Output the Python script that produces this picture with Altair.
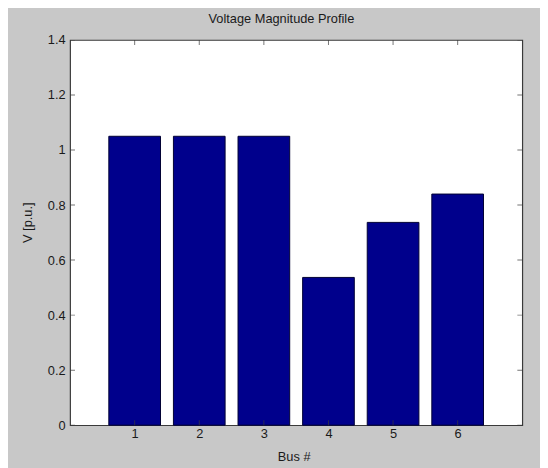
import altair as alt
import pandas as pd

buses = [1, 2, 3, 4, 5, 6]
voltages = [1.05, 1.05, 1.05, 0.537, 0.737, 0.840]
x_ticks = [1, 2, 3, 4, 5, 6]
y_ticks = [0, 0.2, 0.4, 0.6, 0.8, 1.0, 1.2, 1.4]

FONT = "Liberation Sans"
TXT = "#1a1a1a"
FRAME = "#3a3a3a"
FS = 13

bars_df = pd.DataFrame({"bus": buses, "v": voltages})
xt_df = pd.DataFrame({"t": x_ticks})
yt_df = pd.DataFrame({"t": y_ticks})

xscale = alt.Scale(domain=[0, 7], nice=False, zero=False)
yscale = alt.Scale(domain=[0, 1.4], nice=False)

xaxis = alt.Axis(values=x_ticks, ticks=False, domain=False, grid=False,
                 labelPadding=3, labelFont=FONT, labelFontSize=FS, labelColor=TXT,
                 titleFont=FONT, titleFontSize=FS, titleFontWeight="normal", titleColor=TXT,
                 titleX=227, titleY=32, titleBaseline="middle", titleAlign="center")
yaxis = alt.Axis(values=y_ticks, ticks=False, domain=False, grid=False, format="~g",
                 labelPadding=5, labelFont=FONT, labelFontSize=FS, labelColor=TXT,
                 titleFont=FONT, titleFontSize=FS, titleFontWeight="normal", titleColor=TXT,
                 titleX=-43, titleY=185, titleBaseline="middle", titleAlign="center",
                 titleAngle=-90)

XT = "Bus #"
YT = "V [p.u.]"

bars = alt.Chart(bars_df).transform_calculate(
    x0="datum.bus - 0.4", x1="datum.bus + 0.4"
).mark_bar(color="#00008c", stroke="#000033", strokeWidth=1).encode(
    x=alt.X("x0:Q", scale=xscale, axis=xaxis, title=XT),
    x2="x1:Q",
    y=alt.Y("v:Q", scale=yscale, axis=yaxis, title=YT),
    y2=alt.datum(0),
)

def xtick(yval):
    return alt.Chart(xt_df).mark_tick(orient="vertical", size=10, thickness=1,
                                      color=FRAME, clip=True).encode(
        x=alt.X("t:Q", scale=xscale, axis=xaxis, title=XT),
        y=alt.YDatum(yval, scale=yscale, axis=yaxis, title=YT, type="quantitative"),
    )

def ytick(xval):
    return alt.Chart(yt_df).mark_tick(orient="horizontal", size=10, thickness=1,
                                      color=FRAME, clip=True).encode(
        y=alt.Y("t:Q", scale=yscale, axis=yaxis, title=YT),
        x=alt.XDatum(xval, scale=xscale, axis=xaxis, title=XT, type="quantitative"),
    )

chart = alt.layer(
    bars, xtick(0), xtick(1.4), ytick(0), ytick(7)
).properties(
    width=459,
    height=391,
    background="#c8c8c8",
    padding={"left": 63, "top": 29, "right": 18, "bottom": 40},
    autosize=alt.AutoSizeParams(type="none"),
    title=alt.TitleParams("Voltage Magnitude Profile", font=FONT, fontSize=FS,
                          fontWeight="normal", color=TXT, offset=8, dx=-15,
                          anchor="middle"),
).configure_view(fill="white", stroke=FRAME, strokeWidth=1.2)

chart.save("out.html", embed_options={"renderer": "svg", "actions": False})
